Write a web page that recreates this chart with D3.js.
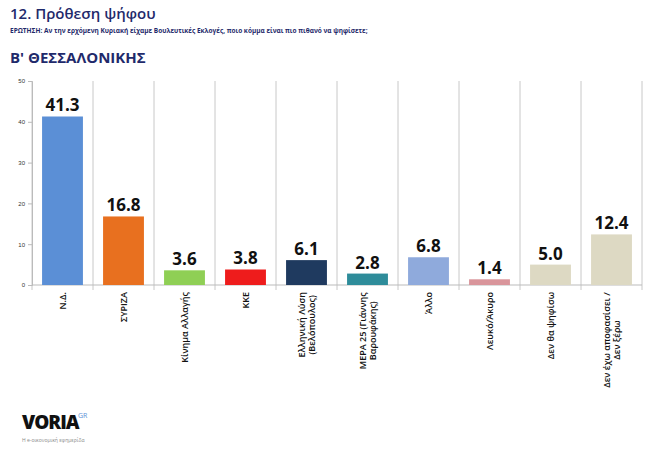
<!DOCTYPE html>
<html><head><meta charset="utf-8">
<script src="https://cdn.jsdelivr.net/npm/d3@7"></script>
<style>body{margin:0;background:#fff;font-family:"Open Sans",sans-serif}</style>
</head><body><div id="chart"></div>
<script>
var categories = [["Ν.Δ."],["ΣΥΡΙΖΑ"],["Κίνημα Αλλαγής"],["ΚΚΕ"],["Ελληνική Λύση","(Βελόπουλος)"],["ΜΕΡΑ 25 (Γιάννης","Βαρουφάκης)"],["Άλλο"],["Λευκό/Άκυρο"],["Δεν θα ψηφίσω"],["Δεν έχω αποφασίσει /","Δεν ξέρω"]];
var values = [41.3,16.8,3.6,3.8,6.1,2.8,6.8,1.4,5.0,12.4];
var colors = ["#5b8fd6","#e8701f","#8fcf55","#ee1c1c","#1f3a5f","#2e8c9a","#8faadc","#d9959b","#ddd9c3","#ddd9c3"];
var yTicks = [0,10,20,30,40,50];

var W = 650, H = 450;
var svg = d3.select("#chart").append("svg").attr("width", W).attr("height", H);

svg.append("text").attr("x",10).attr("y",19).attr("fill","#1f2a6b")
  .style("font-size","15px").style("font-weight","600").text("12. Πρόθεση ψήφου");
svg.append("text").attr("x",10).attr("y",33).attr("fill","#1f2a6b")
  .style("font-size","6.5px").style("font-weight","bold")
  .text("ΕΡΩΤΗΣΗ: Αν την ερχόμενη Κυριακή είχαμε Βουλευτικές Εκλογές, ποιο κόμμα είναι πιο πιθανό να ψηφίσετε;");
svg.append("text").attr("x",10).attr("y",63).attr("fill","#1f2a6b")
  .style("font-size","15px").style("font-weight","bold").text("Β' ΘΕΣΣΑΛΟΝΙΚΗΣ");

var x = d3.scaleBand().domain(d3.range(categories.length)).range([32,642]).paddingInner(0.33).paddingOuter(0.165);
var y = d3.scaleLinear().domain([0,50]).range([285,81]);

var g = svg.append("g");
var step = x.step();
g.selectAll(".sep").data(d3.range(categories.length+1)).enter().append("line")
  .attr("x1", d => 32 + d*step).attr("x2", d => 32 + d*step)
  .attr("y1", 81).attr("y2", 290).attr("stroke","#c8c8c8");
g.append("line").attr("x1",32).attr("x2",642).attr("y1",y(0)).attr("y2",y(0)).attr("stroke","#bbb");

var ax = svg.append("g").attr("transform","translate(32,0)")
  .call(d3.axisLeft(y).tickValues(yTicks).tickSize(4));
ax.select(".domain").attr("stroke","#bbb");
ax.selectAll("line").attr("stroke","#bbb");
ax.selectAll("text").style("font-size","6px").attr("fill","#333");

g.selectAll(".bar").data(values).enter().append("rect")
  .attr("x",(d,i)=>x(i)).attr("width",x.bandwidth())
  .attr("y",d=>y(d)).attr("height",d=>y(0)-y(d))
  .attr("fill",(d,i)=>colors[i]);

g.selectAll(".val").data(values).enter().append("text")
  .attr("x",(d,i)=>x(i)+x.bandwidth()/2).attr("y",d=>y(d)-5)
  .attr("text-anchor","middle").style("font-size","17px").style("font-weight","bold")
  .attr("fill","#111").text(d=>d.toFixed(1));

var lab = g.selectAll(".lab").data(categories).enter().append("text")
  .attr("transform",(d,i)=>{
    var cx = x(i)+x.bandwidth()/2 + 3 - (d.length-1)*5;
    return "translate("+cx+",292) rotate(-90)";
  })
  .attr("text-anchor","end").style("font-size","9px").style("font-weight","600").attr("fill","#111");
lab.each(function(d){
  var t = d3.select(this);
  d.forEach((s,k)=>t.append("tspan").attr("x",0).attr("dy",k?10:0).text(s));
});
lab.filter(d=>d.length>1).each(function(){
  var bb = this.getBBox();
  d3.select(this).selectAll("tspan").attr("x", -(bb.width/2)).attr("text-anchor","middle");
});

svg.append("text").attr("x",22).attr("y",429).style("font-size","19px")
  .style("font-weight","900").attr("fill","#111").style("letter-spacing","-1px").text("VORIA");
svg.append("text").attr("x",78).attr("y",418).style("font-size","7px").attr("fill","#5b8fd6").text("GR");
svg.append("text").attr("x",22).attr("y",442).style("font-size","5px").attr("fill","#888").text("Η e-οικονομική εφημερίδα");
</script></body></html>
